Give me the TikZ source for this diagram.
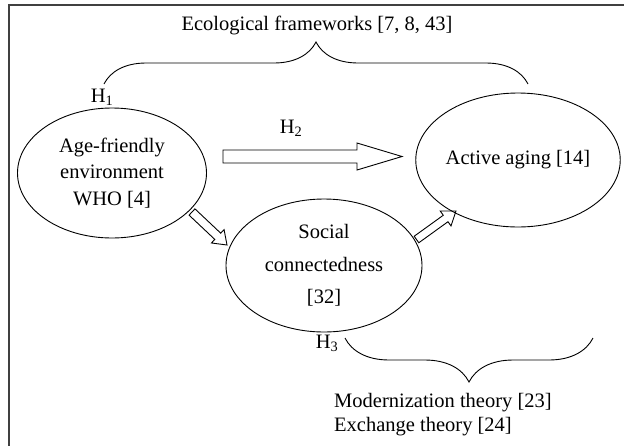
\documentclass[tikz,border=0pt]{standalone}
\usepackage{fontspec}
\setmainfont{Liberation Serif}
\usetikzlibrary{shapes.geometric,decorations.pathreplacing,calc}

\tikzset{
	oval/.style={draw, ellipse, line width=0.9pt, inner sep=0pt, align=center},
	txt/.style={inner sep=0pt, align=center},
	curly/.style={decorate, line width=0.9pt, decoration={brace, amplitude=#1}},
	blockarrow/.style={draw, line width=0.9pt, line join=miter},
}

% hollow block arrow: tail, tip, shaft half width, head half width, head length
\newcommand{\hollowarrow}[5]{%
	\coordinate (#2-base) at ($(#2)!#5!(#1)$);
	\draw[blockarrow] ($(#1)!#3!90:(#2)$) -- ($(#2-base)!#3!90:(#2)$)
		-- ($(#2-base)!#4!90:(#2)$) -- (#2) -- ($(#2-base)!#4!-90:(#2)$)
		-- ($(#2-base)!#3!-90:(#2)$) -- ($(#1)!#3!-90:(#2)$) -- cycle;}

\begin{document}
\begin{tikzpicture}[x=1pt, y=-1pt, font=\fontsize{20.5}{24}\selectfont]
	\useasboundingbox (0,0) rectangle (624,445);

	% frame
	\draw[line width=1.6pt, black!75] (9,450) |- (630,5);

	% concepts
	\node[oval, minimum width=189pt, minimum height=130pt,
		font=\fontsize{20.5}{26.5}\selectfont] (env) at (112,173)
		{Age-friendly\\environment\\WHO [4]};
	\node[oval, minimum width=196pt, minimum height=133pt,
		font=\fontsize{20.5}{32.5}\selectfont] (soc) at (324,265.5)
		{Social\\connectedness\\{[32]}};
	\node[oval, minimum width=189pt, minimum height=134pt] (act) at (518,160)
		{Active aging [14]};

	% hypotheses
	\node[txt] (h1) at (102,97) {H\textsubscript{1}};
	\node[txt] (h2) at (291,128) {H\textsubscript{2}};
	\node[txt] (h3) at (327,343) {H\textsubscript{3}};

	% arrows
	\coordinate (h2tail) at (223,156.5);
	\coordinate (h2tip) at (402,156.5);
	\hollowarrow{h2tail}{h2tip}{6.5pt}{13.5pt}{45pt}
	\coordinate (envtail) at (192,212);
	\coordinate (envtip) at (227,245);
	\hollowarrow{envtail}{envtip}{4.3pt}{9.2pt}{12.7pt}
	\coordinate (soctail) at (416.5,239.5);
	\coordinate (soctip) at (456,211);
	\hollowarrow{soctail}{soctip}{4pt}{9.2pt}{12.8pt}

	% theories
	\coordinate (eco-l) at (104,84);
	\coordinate (eco-r) at (528,84);
	\draw[curly=42pt] (eco-l) -- (eco-r);
	\node[txt] (eco) at (317,25) {Ecological frameworks [7, 8, 43]};
	\coordinate (mod-r) at (593,338);
	\coordinate (mod-l) at (345,338);
	\draw[curly=44pt] (mod-r) -- (mod-l);
	\node[txt, align=left, anchor=west] (mod) at (334,415)
		{Modernization theory [23]\\Exchange theory [24]};
\end{tikzpicture}
\end{document}
